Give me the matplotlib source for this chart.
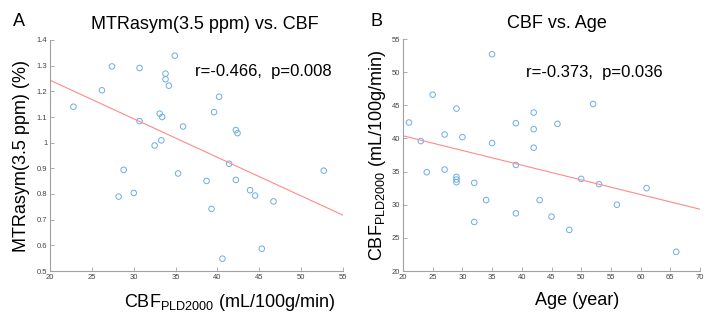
import numpy as np
import matplotlib.pyplot as plt

plt.rcParams['font.family'] = ['Liberation Sans', 'DejaVu Sans']

# panel A: CBF vs MTRasym
cbf_a = [22.8, 26.2, 27.4, 28.2, 28.8, 30.0, 30.7, 30.7, 32.5, 33.1, 33.3, 33.4,
         33.8, 33.8, 34.2, 34.9, 35.3, 35.9, 38.7, 39.3, 39.6, 40.2, 40.6, 41.4,
         42.2, 42.2, 42.4, 43.9, 44.5, 45.3, 46.7, 52.7]
mtr = [1.140, 1.204, 1.297, 0.790, 0.894, 0.804, 1.084, 1.291, 0.989, 1.113, 1.009, 1.100,
       1.269, 1.247, 1.222, 1.339, 0.880, 1.063, 0.851, 0.742, 1.119, 1.179, 0.548, 0.918,
       0.855, 1.049, 1.037, 0.815, 0.794, 0.587, 0.771, 0.891]
fit_a = [-0.01503, 1.544]   # slope, intercept of the drawn fit

# panel B: age vs CBF
age = [21, 23, 24, 25, 27, 27, 29, 29, 29, 29, 30, 32, 32, 34, 35, 35,
       39, 39, 39, 42, 42, 42, 43, 45, 46, 48, 50, 52, 53, 56, 61, 66]
cbf_b = [42.4, 39.6, 34.9, 46.6, 40.6, 35.3, 44.5, 34.2, 33.8, 33.4, 40.2, 33.3,
         27.4, 30.7, 52.7, 39.3, 42.3, 36.0, 28.7, 43.9, 41.4, 38.6, 30.7, 28.2,
         42.2, 26.2, 33.9, 45.2, 33.1, 30.0, 32.5, 22.9]
fit_b = [-0.2216, 44.83]

dot_col = '#6aaee6'
line_col = '#ff8a8a'
axis_col = '#a0a0a0'

fig = plt.figure(figsize=(7.11, 3.21), dpi=100)
ax1 = fig.add_axes([50/711, 1-271/321, 293/711, 231/321])
ax2 = fig.add_axes([403/711, 1-271/321, 297/711, 232/321])


def style(ax):
    for s in ['top', 'right']:
        ax.spines[s].set_visible(False)
    for s in ['left', 'bottom']:
        ax.spines[s].set_color(axis_col)
        ax.spines[s].set_linewidth(0.8)
    ax.tick_params(direction='in', length=3, width=0.6, color=axis_col,
                   labelsize=5.5, labelcolor='#444444', pad=2)


ax1.scatter(cbf_a, mtr, s=16, facecolors='none', edgecolors=dot_col, linewidths=0.7)
xs = np.array([20, 55])
ax1.plot(xs, fit_a[0]*xs + fit_a[1], color=line_col, lw=0.8)
ax1.set_xlim(20, 55)
ax1.set_ylim(0.5, 1.4)
ax1.set_xticks(range(20, 56, 5))
ax1.set_yticks(np.arange(0.5, 1.41, 0.1))
ax1.set_yticklabels(['0.5', '0.6', '0.7', '0.8', '0.9', '1', '1.1', '1.2', '1.3', '1.4'])
style(ax1)
ax1.text(37.3, 1.276, 'r=-0.466,  p=0.008', fontsize=12, va='center', ha='left')
ax1.set_xlabel(r'CBF$_{\mathregular{PLD2000}}$ (mL/100g/min)', fontsize=13, labelpad=8)
ax1.xaxis.label.set_x(0.614)
ax1.set_ylabel('MTRasym(3.5 ppm) (%)', fontsize=13, labelpad=5)
ax1.set_title('MTRasym(3.5 ppm) vs. CBF', fontsize=13, pad=8, x=0.529)

ax2.scatter(age, cbf_b, s=16, facecolors='none', edgecolors=dot_col, linewidths=0.7)
xs = np.array([20, 70])
ax2.plot(xs, fit_b[0]*xs + fit_b[1], color=line_col, lw=0.8)
ax2.set_xlim(20, 70)
ax2.set_ylim(20, 55)
ax2.set_xticks(range(20, 71, 5))
ax2.set_yticks(range(20, 56, 5))
style(ax2)
ax2.text(40.7, 50, 'r=-0.373,  p=0.036', fontsize=12, va='center', ha='left')
ax2.set_xlabel('Age (year)', fontsize=13, labelpad=8)
ax2.xaxis.label.set_x(0.586)
ax2.set_ylabel(r'CBF$_{\mathregular{PLD2000}}$ (mL/100g/min)', fontsize=13, labelpad=3)
ax2.set_title('CBF vs. Age', fontsize=13, pad=8, x=0.519)

fig.text(13/711, 1-22/321, 'A', fontsize=13, va='center')
fig.text(370/711, 1-22/321, 'B', fontsize=13, va='center')

fig.savefig('out.png', dpi=100)
